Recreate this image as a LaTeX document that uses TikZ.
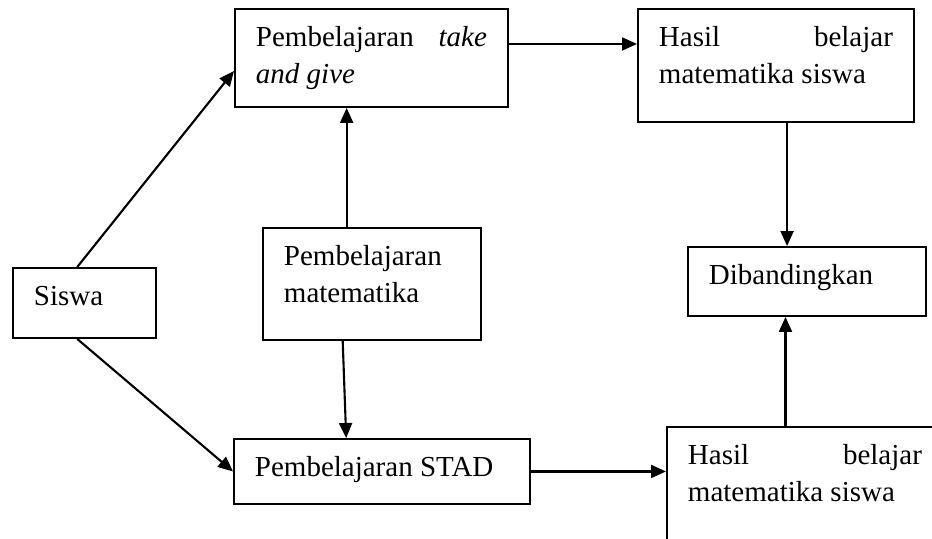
\documentclass[tikz,border=0pt]{standalone}
\usepackage{fontspec}
\setmainfont{Liberation Serif}
\usetikzlibrary{calc,arrows.meta}
\begin{document}
\begin{tikzpicture}[x=0.02cm,y=-0.02cm,
    kotak/.style={draw,line width=1.1pt,anchor=north west,align=justify,
      inner xsep=0.42cm,inner ysep=0pt,text height=0.75cm,
      font={\fontsize{16.5}{21.3}\selectfont\hyphenpenalty10000 \tolerance10000 }},
    panah/.style={line width=1.2pt,-{Triangle[length=0.3cm,width=0.26cm]}}]
        \useasboundingbox (0,0) rectangle (932,538);
        \clip (0,0) rectangle (932,538);
        \node[kotak,text width=2.02cm,text depth=0.65cm] (siswa)   at (12,267)  {Siswa};
        \node[kotak,text width=4.62cm,text depth=1.21cm] (take)    at (234,8)   {Pembelajaran \emph{take and give}};
        \node[kotak,text width=4.68cm,text depth=1.51cm] (hasilA)  at (637,8)   {Hasil belajar matematika siswa};
        \node[kotak,text width=3.52cm,text depth=1.49cm] (mat)     at (262,227) {Pembelajaran matematika};
        \node[kotak,text width=3.92cm,text depth=0.63cm] (banding) at (687,246) {Dibandingkan};
        \node[kotak,text width=5.08cm,text depth=0.55cm] (stad)    at (233,438) {Pembelajaran STAD};
        \node[kotak,text width=4.68cm,text depth=1.51cm] (hasilB)  at (666,426) {Hasil belajar matematika siswa};
        \coordinate (m1) at ($(mat.north west)!0.385!(mat.north east)$);
        \coordinate (t1) at ($(take.north east)!0.36!(take.south east)$);
        \coordinate (h1) at ($(hasilA.south west)!0.54!(hasilA.south east)$);
        \coordinate (h2) at ($(hasilB.north west)!0.43!(hasilB.north east)$);
        \draw[panah] ($(siswa.north west)!0.45!(siswa.north east)$) -- ($(take.north west)!0.63!(take.south west)$);
        \draw[panah] ($(siswa.south west)!0.45!(siswa.south east)$) -- (stad.west);
        \draw[panah] (m1) -- (m1 |- take.south);
        \draw[panah] ($(mat.south west)!0.367!(mat.south east)$) -- ($(stad.north west)!0.38!(stad.north east)$);
        \draw[panah] (t1) -- (t1 -| hasilA.west);
        \draw[panah] (h1) -- (h1 |- banding.north);
        \draw[panah] (stad.east) -- (stad.east -| hasilB.west);
        \draw[panah] (h2) -- (h2 |- banding.south);
    \end{tikzpicture}
\end{document}
